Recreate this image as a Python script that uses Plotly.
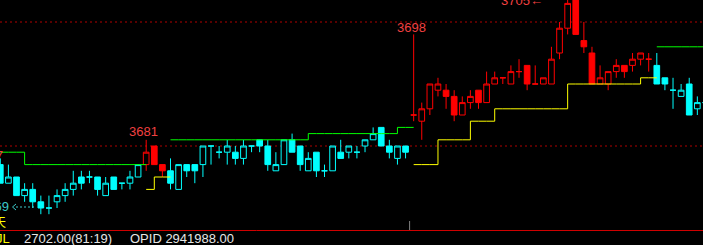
import plotly.graph_objects as go

# ---------------- data ----------------
bar_index = list(range(88))
opens = [3677, 3674, 3675, 3672, 3673, 3671, 3670, 3671, 3672, 3673,
         3675, 3675, 3675, 3672, 3675, 3674, 3674, 3675, 3677, 3680,
         3677, 3676, 3673, 3677, 3677, 3677, 3680, 3679, 3679, 3679,
         3678, 3680, 3681, 3680, 3676, 3677, 3681, 3680, 3676, 3679,
         3676, 3676, 3679, 3679, 3679, 3680, 3681, 3683, 3680, 3678,
         3680, 3685, 3684, 3686, 3689, 3689, 3688, 3685, 3687, 3689,
         3687, 3690, 3691, 3690, 3692, 3693, 3690, 3690, 3690, 3695,
         3699, 3704, 3697, 3695, 3690, 3690, 3692, 3693, 3693, 3694,
         3694, 3693, 3691, 3689, 3688, 3690, 3686, 3687]
highs = [3678, 3677, 3675, 3674, 3674, 3672, 3672, 3673, 3674, 3676,
         3676, 3676, 3675, 3675, 3675, 3674, 3676, 3677, 3681, 3680,
         3677, 3678, 3677, 3677, 3677, 3680, 3680, 3680, 3681, 3680,
         3681, 3680, 3681, 3681, 3679, 3681, 3682, 3680, 3679, 3679,
         3677, 3680, 3681, 3680, 3680, 3681, 3683, 3683, 3681, 3680,
         3680, 3698, 3687, 3690, 3691, 3690, 3689, 3688, 3689, 3689,
         3692, 3692, 3691, 3693, 3694, 3693, 3693, 3691, 3696, 3700,
         3704, 3705, 3700, 3696, 3693, 3692, 3694, 3693, 3695, 3695,
         3695, 3695, 3691, 3691, 3690, 3691, 3688, 3688]
lows = [3674, 3674, 3672, 3671, 3670, 3669, 3669, 3670, 3671, 3672,
        3673, 3674, 3672, 3672, 3673, 3673, 3673, 3675, 3676, 3677,
        3675, 3673, 3673, 3675, 3674, 3675, 3677, 3678, 3677, 3677,
        3677, 3679, 3679, 3676, 3676, 3677, 3679, 3676, 3676, 3675,
        3675, 3676, 3678, 3678, 3678, 3679, 3681, 3680, 3678, 3677,
        3678, 3684, 3681, 3685, 3688, 3686, 3684, 3685, 3686, 3686,
        3687, 3690, 3690, 3690, 3691, 3689, 3690, 3690, 3690, 3694,
        3698, 3698, 3695, 3690, 3690, 3689, 3691, 3691, 3692, 3693,
        3692, 3690, 3689, 3686, 3688, 3685, 3685, 3686]
closes = [3674, 3675, 3672, 3673, 3671, 3670, 3670, 3672, 3673, 3674,
          3674, 3675, 3673, 3674, 3673, 3674, 3675, 3677, 3679, 3677,
          3676, 3674, 3677, 3676, 3676, 3680, 3680, 3679, 3680, 3678,
          3680, 3680, 3680, 3677, 3677, 3681, 3679, 3677, 3678, 3676,
          3676, 3680, 3678, 3680, 3679, 3681, 3682, 3680, 3679, 3680,
          3679, 3685, 3686, 3690, 3690, 3688, 3685, 3687, 3688, 3687,
          3690, 3691, 3691, 3692, 3692, 3690, 3690, 3691, 3694, 3699,
          3703, 3698, 3696, 3690, 3691, 3692, 3693, 3692, 3694, 3695,
          3694, 3690, 3690, 3689, 3689, 3685, 3687, 3687]
# trend state per bar: r = up-trend (red), c = down-trend (cyan)
trend = ("cccccccccccccccccc" "rrr" "cccccccccccccccccccccccccccccc"
         "rrrrrrrrrrrrrrrrrrrrrrrrrrrrrr" "ccccccc")
N = None
green_stop = [3679, 3679, 3679, 3677, 3677, 3677, 3677, 3677, 3677, 3677,
              3677, 3677, 3677, 3677, 3677, 3677, 3677, 3677, 3677, N,
              N, 3681, 3681, 3681, 3681, 3681, 3681, 3681, 3681, 3681,
              3681, 3681, 3681, 3681, 3681, 3681, 3681, 3681, 3682, 3682,
              3682, 3682, 3682, 3682, 3682, 3682, 3682, 3682, 3682, 3683,
              3683, 3683, N, N, N, N, N, N, N, N,
              N, N, N, N, N, N, N, N, N, N,
              N, N, N, N, N, N, N, N, N, N,
              N, 3696, 3696, 3696, 3696, 3696, 3696, 3696]
yellow_stop = [N, N, N, N, N, N, N, N, N, N,
               N, N, N, N, N, N, N, N, 3673, 3675,
               3675, 3675, N, N, N, N, N, N, N, N,
               N, N, N, N, N, N, N, N, N, N,
               N, N, N, N, N, N, N, N, N, N,
               N, 3677, 3677, 3677, 3681, 3681, 3681, 3681, 3684, 3684,
               3684, 3686, 3686, 3686, 3686, 3686, 3686, 3686, 3686, 3686,
               3690, 3690, 3690, 3690, 3690, 3690, 3690, 3690, 3690, 3691,
               3691, 3691, N, N, N, N, N, N]
ref_levels = [3700, 3680]
high_marks = [(51, 3698, -3), (18, 3681, -1.5)]
top_mark = (71, 3705)
low_mark = (5, 3669)
day_break = 50.5
footer_left = "JL"
footer_mid = "2702.00(81:19)"
footer_right = "OPID 2941988.00"

RED = "#ff0000"
CYAN = "#00ffff"
LBL_FONT = "Liberation Sans, Arial"

fig = go.Figure()

for key, col in (("c", CYAN), ("r", RED)):
    sel = [i for i, t in enumerate(trend) if t == key]
    fig.add_trace(go.Candlestick(
        x=[bar_index[i] for i in sel],
        open=[opens[i] for i in sel],
        high=[highs[i] for i in sel],
        low=[lows[i] for i in sel],
        close=[closes[i] for i in sel],
        increasing=dict(line=dict(color=col, width=1), fillcolor="#000000"),
        decreasing=dict(line=dict(color=col, width=1), fillcolor=col),
        whiskerwidth=0, hoverinfo="skip", showlegend=False,
    ))

fig.add_trace(go.Scatter(x=bar_index, y=green_stop, mode="lines",
                         line=dict(color="#00ff00", width=1, shape="hv"),
                         connectgaps=False, hoverinfo="skip", showlegend=False))
fig.add_trace(go.Scatter(x=bar_index, y=yellow_stop, mode="lines",
                         line=dict(color="#ffff00", width=1, shape="hv"),
                         connectgaps=False, hoverinfo="skip", showlegend=False))

shapes = []
for lv in ref_levels:
    shapes.append(dict(type="line", xref="paper", x0=0, x1=1, yref="y", y0=lv, y1=lv,
                       line=dict(color="#b00000", width=1, dash="2px,3px"), layer="below"))
# bottom frame line
shapes.append(dict(type="line", xref="paper", x0=0, x1=1, yref="paper", y0=-0.5 / 230, y1=-0.5 / 230,
                   line=dict(color="#d00000", width=1)))
# day separator tick
shapes.append(dict(type="line", xref="x", x0=day_break, x1=day_break, yref="paper", y0=0, y1=9 / 230,
                   line=dict(color="#808080", width=1)))
# low-mark arrow
ay = (230 - 207) / 230
shapes.append(dict(type="line", xref="paper", x0=16 / 703, x1=35 / 703, yref="paper", y0=ay, y1=ay,
                   line=dict(color="#3cc8c8", width=1, dash="2px,2px")))
shapes.append(dict(type="path", xref="paper", yref="paper",
                   path=f"M {16/703},{ay + 3/230} L {12.5/703},{ay} L {16/703},{ay - 3/230}",
                   line=dict(color="#3cc8c8", width=1)))

ann = []
for bi, val, ys in high_marks:
    ann.append(dict(x=bi, y=val, xref="x", yref="y", text=str(val), showarrow=False,
                    xanchor="center", yanchor="bottom", xshift=-2.5, yshift=ys,
                    font=dict(family=LBL_FONT, size=13, color="#f04040")))
ann.append(dict(x=top_mark[0], y=1, xref="x", yref="paper", text=f"{top_mark[1]}←", showarrow=False,
                xanchor="right", yanchor="middle", xshift=-31, yshift=0,
                font=dict(family=LBL_FONT, size=13, color="#f04040")))
ann.append(dict(x=11 / 703, y=low_mark[1], xref="paper", yref="y", text=str(low_mark[1]), showarrow=False,
                xanchor="right", yanchor="middle", yshift=8,
                font=dict(family=LBL_FONT, size=13, color="#3cc8c8")))
ann.append(dict(x=5 / 703, y=(230 - 155) / 230, xref="paper", yref="paper", text="3677", showarrow=False,
                xanchor="right", yanchor="middle",
                font=dict(family=LBL_FONT, size=13, color="#f04040")))
ann.append(dict(x=7.5 / 703, y=(230 - 221.5) / 230, xref="paper", yref="paper", text="天", showarrow=False,
                xanchor="right", yanchor="middle",
                font=dict(family="Noto Sans CJK SC", size=12, color="#ffff00")))
fy = (230 - 238.5) / 230
ann.append(dict(x=12 / 703, y=fy, xref="paper", yref="paper", text=footer_left, showarrow=False,
                xanchor="right", yanchor="middle",
                font=dict(family="Liberation Sans", size=13, color="#ffff00")))
ann.append(dict(x=22 / 703, y=fy, xref="paper", yref="paper", text=footer_mid, showarrow=False,
                xanchor="left", yanchor="middle",
                font=dict(family="Liberation Sans", size=13, color="#e6e6e6")))
ann.append(dict(x=128 / 703, y=fy, xref="paper", yref="paper", text=footer_right, showarrow=False,
                xanchor="left", yanchor="middle",
                font=dict(family="Liberation Sans", size=13, color="#e6e6e6")))

y_top = 3680 + 146 / 6.2
y_bot = 3680 - 84 / 6.2
fig.update_layout(
    width=703, height=245,
    margin=dict(l=0, r=0, t=0, b=15),
    paper_bgcolor="#000000", plot_bgcolor="#000000",
    showlegend=False, boxgap=0.3, boxgroupgap=0,
    xaxis=dict(range=[-0.3 / 8.105, 702.7 / 8.105], visible=False, rangeslider=dict(visible=False),
               fixedrange=True),
    yaxis=dict(range=[y_bot, y_top], visible=False, fixedrange=True),
    shapes=shapes, annotations=ann,
)

fig.write_html("out.html")
